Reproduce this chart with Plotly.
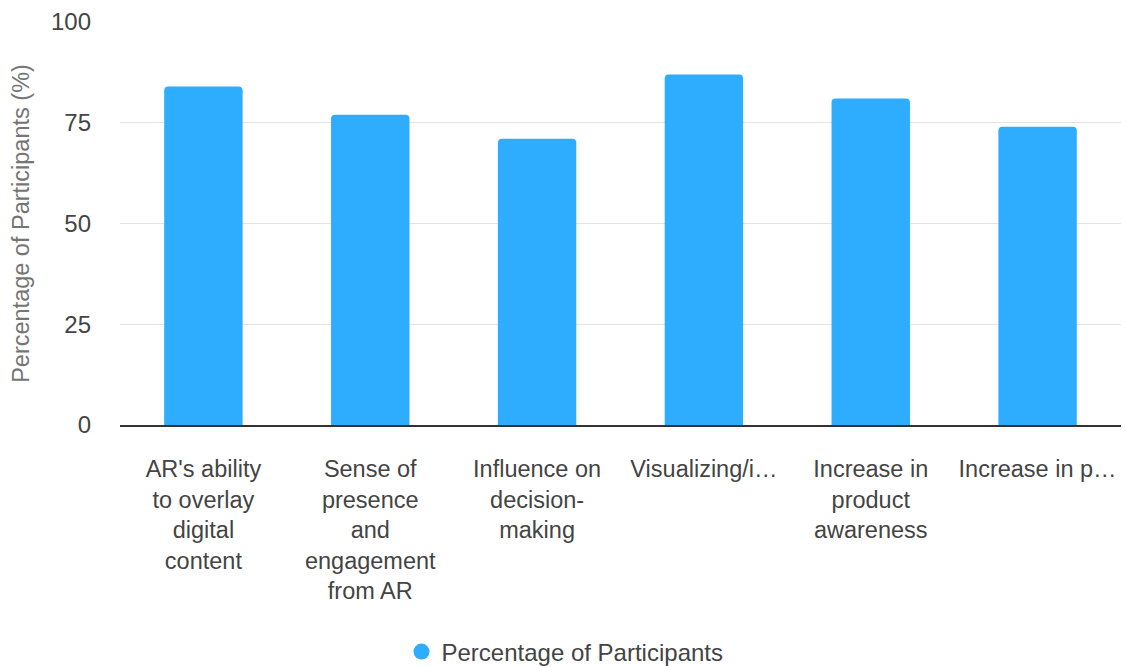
import plotly.graph_objects as go

# Survey results: share of participants per AR factor
categories = [
    "AR's ability<br>to overlay<br>digital<br>content",
    "Sense of<br>presence<br>and<br>engagement<br>from AR",
    "Influence on<br>decision-<br>making",
    "Visualizing/i…",
    "Increase in<br>product<br>awareness",
    "Increase in p…",
]
percentages = [84, 77, 71, 87, 81, 74]
y_ticks = [0, 25, 50, 75, 100]

series_name = "Percentage of Participants"
bar_color = "#2eadff"
font_family = "Liberation Sans, Arial, sans-serif"

fig = go.Figure()
fig.add_trace(
    go.Bar(
        x=categories,
        y=percentages,
        name=series_name,
        marker=dict(color=bar_color, line=dict(width=0), cornerradius=4),
        width=0.47,
        showlegend=False,
    )
)
# Legend entry with a round swatch, as the chart key shows
fig.add_trace(
    go.Scatter(
        x=[None],
        y=[None],
        mode="markers",
        name=series_name,
        marker=dict(color=bar_color, size=20, symbol="circle"),
        showlegend=True,
    )
)

W, H = 1126, 667
legend_center_px = 652

fig.update_layout(
    width=W,
    height=H,
    margin=dict(l=120, r=5, t=22, b=242),
    paper_bgcolor="white",
    plot_bgcolor="white",
    font=dict(family=font_family, size=23.5, color="#444444"),
    showlegend=True,
    legend=dict(
        orientation="h",
        xref="container",
        yref="container",
        x=565 / W,
        xanchor="center",
        y=1 - legend_center_px / H,
        yanchor="middle",
        font=dict(size=24, color="#444444"),
        bgcolor="rgba(0,0,0,0)",
    ),
)

fig.update_xaxes(
    showgrid=False,
    showline=True,
    linecolor="#333333",
    linewidth=1.5,
    ticks="",
    tickangle=0,
    ticklabelstandoff=22,
    tickfont=dict(size=23.5, color="#444444"),
)

fig.update_yaxes(
    range=[0, 100],
    tickvals=y_ticks,
    showgrid=True,
    gridcolor="#e3e3e3",
    gridwidth=1,
    zeroline=False,
    showline=False,
    ticks="",
    ticklabelstandoff=28,
    tickfont=dict(size=24, color="#444444"),
    title=dict(
        text="Percentage of Participants (%)",
        font=dict(size=23.5, color="#757575"),
        standoff=14,
    ),
)

fig.write_html("out.html")
